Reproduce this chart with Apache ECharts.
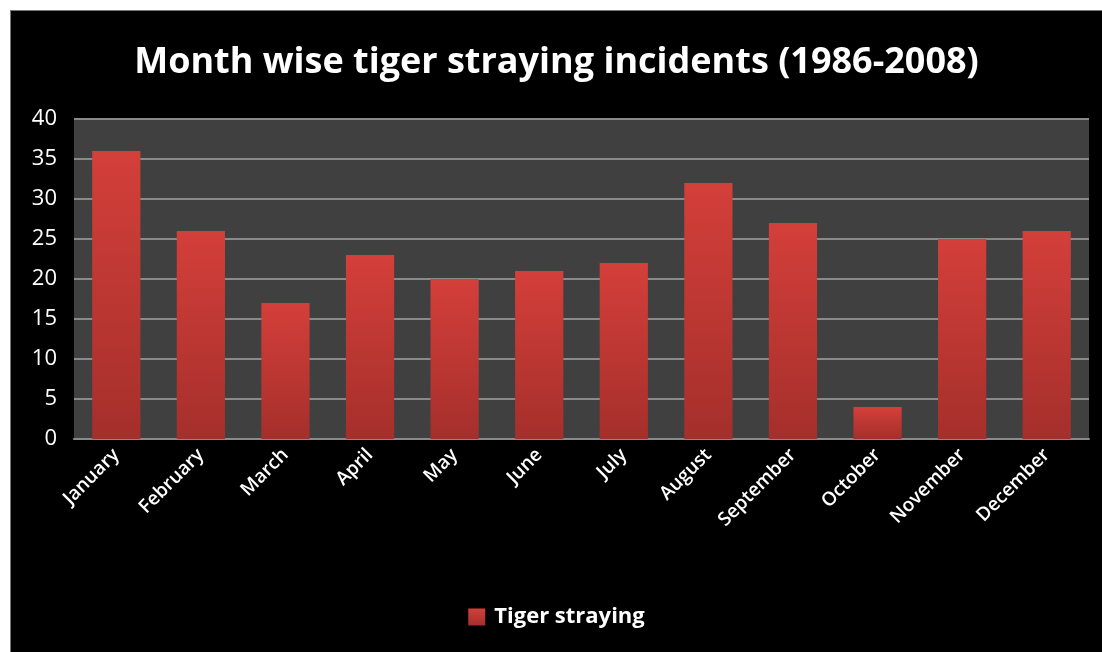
<!DOCTYPE html>
<html>
<head>
<meta charset="utf-8">
<script src="https://cdn.jsdelivr.net/npm/echarts@6/dist/echarts.min.js"></script>
<style>
  html, body { margin: 0; padding: 0; background: #ffffff; }
  #chart { position: absolute; left: 10px; top: 10px; width: 1092px; height: 642px; box-sizing: border-box; border-left: 1px solid #777; border-top: 1px solid #777; }
</style>
</head>
<body>
<div id="chart"></div>
<script>
// Monthly tiger straying incidents, 1986-2008
const months = ['January', 'February', 'March', 'April', 'May', 'June', 'July', 'August', 'September', 'October', 'November', 'December'];
const incidents = [36, 26, 17, 23, 20, 21, 22, 32, 27, 4, 25, 26];
const yTicks = { min: 0, max: 40, interval: 5 };
const seriesName = 'Tiger straying';

const chart = echarts.init(document.getElementById('chart'));
const font = 'Open Sans';

chart.setOption({
  backgroundColor: '#000000',
  animation: false,
  title: {
    text: 'Month wise tiger straying incidents (1986-2008)',
    left: 'center',
    top: 29,
    textStyle: { color: '#ffffff', fontFamily: font, fontWeight: 'bold', fontSize: 36 }
  },
  legend: {
    bottom: 19,
    left: 'center',
    itemWidth: 17,
    itemHeight: 17,
    itemGap: 10,
    icon: 'rect',
    textStyle: { color: '#ffffff', fontFamily: font, fontWeight: 'bold', fontSize: 22, padding: [0, 0, 0, 4] },
    data: [seriesName]
  },
  grid: {
    left: 63,
    top: 108,
    right: 13,
    bottom: 213,
    show: true,
    backgroundColor: '#404040',
    borderWidth: 0
  },
  xAxis: {
    type: 'category',
    data: months,
    axisLine: { lineStyle: { color: '#8a8a8a', width: 2 } },
    axisTick: { show: false },
    axisLabel: { color: '#ffffff', fontFamily: font, fontWeight: 600, fontSize: 19, rotate: 45, margin: 13, interval: 0 }
  },
  yAxis: {
    type: 'value',
    min: yTicks.min,
    max: yTicks.max,
    interval: yTicks.interval,
    axisLine: { show: false },
    axisTick: { show: false },
    splitLine: { lineStyle: { color: '#8a8a8a', width: 2 } },
    axisLabel: { color: '#ffffff', fontFamily: font, fontSize: 22, margin: 17 }
  },
  series: [{
    name: seriesName,
    type: 'bar',
    data: incidents,
    barWidth: '57%',
    itemStyle: {
      color: new echarts.graphic.LinearGradient(0, 0, 0, 1, [
        { offset: 0, color: '#d43f3a' },
        { offset: 1, color: '#a52f2b' }
      ])
    }
  }]
});
</script>
</body>
</html>
